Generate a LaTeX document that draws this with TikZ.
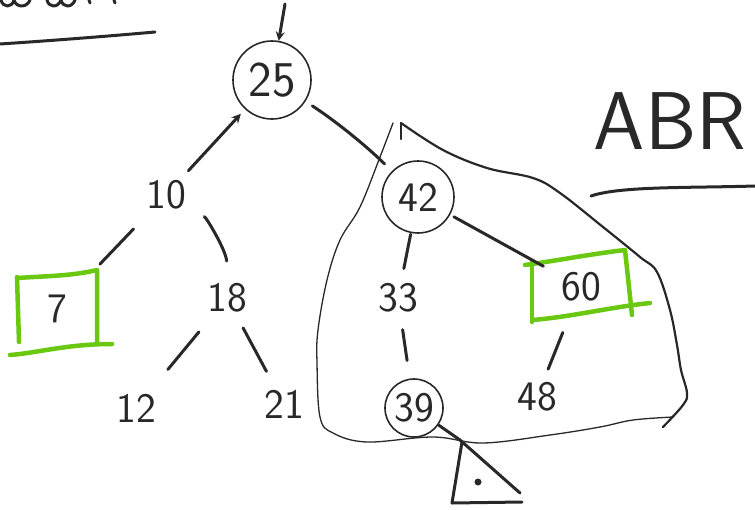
\documentclass[tikz,border=0pt]{standalone}
\usetikzlibrary{arrows}
\definecolor{penink}{RGB}{40,40,40}
\definecolor{marker}{RGB}{105,200,15}
\begin{document}
\begin{tikzpicture}[x=1pt, y=-1pt, >=stealth, font=\sffamily\fontsize{42}{50}\selectfont,
  pen/.style={line width=3pt, draw=penink, line cap=round, line join=round},
  thin pen/.style={line width=1.3pt, draw=penink, line cap=round},
  val/.style={inner sep=0pt, text=penink},
  ring/.style={circle, draw=penink, line width=1.6pt, inner sep=0pt, text=penink},
  hl/.style={inner sep=0pt, text=penink},
  hl line/.style={draw=marker, line width=4.5pt, line cap=round, line join=round}]
\useasboundingbox (0,0) rectangle (755,509);

% Chữ bị cắt và gạch chân
\draw[pen] (1,0) .. controls (3,8) and (12,8) .. (14,0) .. controls (16,8) and (27,8) .. (30,0);
\draw[pen] (47,0) .. controls (49,8) and (58,8) .. (61,0) .. controls (63,8) and (72,8) .. (75,0);
\draw[pen] (89,0) -- (90,3);
\draw[pen] (114,0) -- (115,3);
\draw[pen] (0,44) .. controls (60,40) and (110,36) .. (155,32);

% Nút
\node[ring, minimum size=78pt, font=\sffamily\fontsize{50}{60}\selectfont] (n25) at (272,80) {25};
\node[val] (n10) at (166,195) {10};
\node[ring, minimum size=72pt] (n42) at (418,197) {42};
\node[hl, minimum width=80pt, minimum height=72pt] (n7) at (57,309) {7};
\node[val] (n18) at (227,298) {18};
\node[val] (n33) at (398,298) {33};
\node[hl, minimum width=98pt, minimum height=63pt] (n60) at (581,287) {60};
\node[val] (n12) at (136,408) {12};
\node[val] (n21) at (284,404) {21};
\node[ring, minimum size=58pt] (n39) at (414,408) {39};
\node[val] (n48) at (537,397) {48};
\coordinate (sub) at (460,440);
\coordinate (root in) at (285,4);

% Khung bút dạ quang
\begin{scope}[shift={(n7.center)}]
  \draw[hl line] (-40,-32) -- (-38,33);
  \draw[hl line] (-40,-31) .. controls (-10,-33) and (15,-33) .. (40,-39) -- (40,33);
  \draw[hl line] (-47,46) .. controls (-20,44) and (10,35) .. (55,35);
\end{scope}
\begin{scope}[shift={(n60.center)}]
  \draw[hl line] (-49,-25) -- (-49,35);
  \draw[hl line] (-56,-22) .. controls (-20,-27) and (10,-33) .. (44,-37) -- (51,28);
  \draw[hl line] (-49,33) .. controls (-10,30) and (30,20) .. (69,16);
\end{scope}

% Cạnh
\draw[pen, ->] (root in) -- (n25);
\draw[pen, ->, shorten <=33pt, shorten >=46pt] (n10.center) -- (n25.center);
\draw[pen, shorten <=48pt, shorten >=47pt] (n25.center) to[bend left=6] (n42.center);
\draw[pen, shorten <=47pt, shorten >=62pt] (n10.center) -- (n7.center);
\draw[pen, shorten <=44pt, shorten >=37pt] (n10.center) to[bend left=30] (n18.center);
\draw[pen, shorten <=44pt, shorten >=50pt] (n18.center) -- (n12.center);
\draw[pen, shorten <=34pt, shorten >=37pt] (n18.center) -- (n21.center);
\draw[pen, shorten <=38pt, shorten >=30pt] (n42.center) -- (n33.center);
\draw[pen, shorten <=41pt, shorten >=43pt] (n42.center) -- (n60.center);
\draw[pen, shorten <=32pt, shorten >=48pt] (n33.center) -- (n39.center);
\draw[pen, shorten <=49pt, shorten >=30pt] (n60.center) -- (n48.center);
\draw[pen, shorten <=30pt] (n39.center) -- (sub);

% Cây con
\draw[pen] (sub) -- (520,493);
\draw[pen] (462,442) -- (452,503) -- (522,502);
\fill[penink] (478,482) circle (3.5pt);

% Vùng ABR
\draw[pen, line width=2.2pt] (401,139) -- (401,123);
\draw[pen, line width=2.2pt] plot[smooth, tension=0.6] coordinates {(401,123) (443,150) (487,168) (533,178) (560,193) (603,227) (640,257) (657,272) (670,310) (677,345) (681,370) (687,393) (683,405) (663,427)};
\draw[thin pen] plot[smooth, tension=0.6] coordinates {(673,417) (633,420) (600,427) (550,435) (483,443) (433,437) (367,442) (333,433) (320,417) (317,363) (318,330) (327,280) (340,240) (360,207) (380,157) (393,123)};
\node[val, font=\sffamily\fontsize{82}{90}\selectfont] (abr) at (670,121) {ABR};
\draw[pen] (591,196) .. controls (620,186) and (690,188) .. (755,186);
\end{tikzpicture}
\end{document}
